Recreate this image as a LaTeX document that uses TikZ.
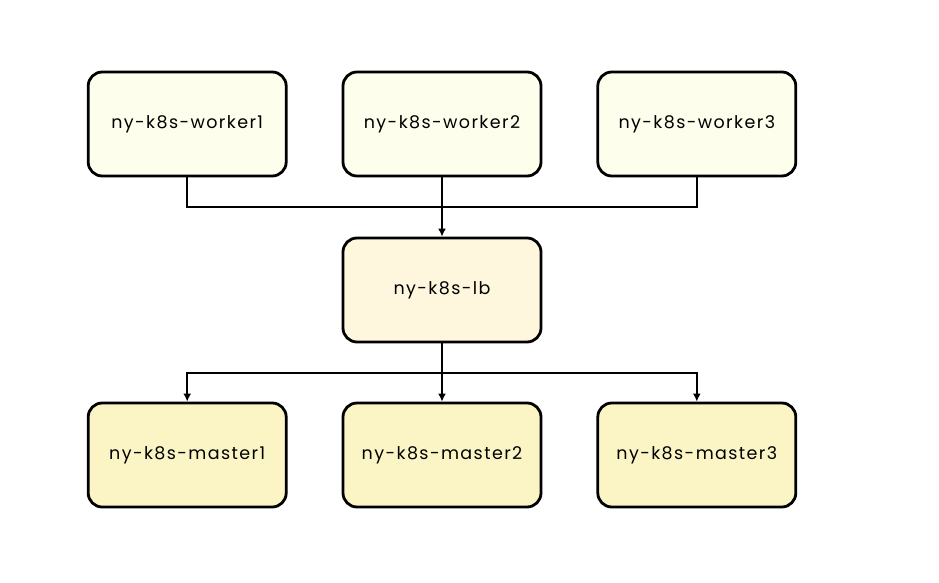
\documentclass[tikz,border=0pt]{standalone}
\usepackage{fontspec}
\setmainfont{Poppins}[LetterSpace=8]
\usetikzlibrary{positioning,calc,arrows.meta}

\definecolor{workerfill}{HTML}{FEFEEC}
\definecolor{lbfill}{HTML}{FEF7DD}
\definecolor{masterfill}{HTML}{FBF5C6}

\tikzset{
  hostbox/.style={draw=black,line width=2.8pt,rounded corners=14pt,
    minimum width=198pt,minimum height=104pt,font=\fontsize{17.5}{20}\selectfont,
    inner sep=0pt},
  link/.style={line width=2.4pt},
  linkarrow/.style={link,-{Latex[length=8pt,width=8pt]}}
}

\begin{document}
\begin{tikzpicture}[x=1pt,y=1pt,node distance=54pt and 54pt]

    \useasboundingbox (0,0) rectangle (939,582);

    \node[hostbox,fill=lbfill] (lb) at (442,292) {ny-k8s-lb};

    % workers
    \node[hostbox,fill=workerfill] (w2) at (442,458) {ny-k8s-worker2};
    \node[hostbox,fill=workerfill,left=of w2] (w1) {ny-k8s-worker1};
    \node[hostbox,fill=workerfill,right=of w2] (w3) {ny-k8s-worker3};

    % masters
    \node[hostbox,fill=masterfill] (m2) at (442,127) {ny-k8s-master2};
    \node[hostbox,fill=masterfill,left=of m2] (m1) {ny-k8s-master1};
    \node[hostbox,fill=masterfill,right=of m2] (m3) {ny-k8s-master3};

    \coordinate (top) at (442,375);
    \coordinate (bot) at (442,209);

    \draw[link] (w1.south) |- (top);
    \draw[link] (w3.south) |- (top);
    \draw[linkarrow] (w2.south) -- (lb.north);

    \draw[linkarrow] (lb.south) -- (m2.north);
    \draw[linkarrow] (bot) -| (m1.north);
    \draw[linkarrow] (bot) -| (m3.north);

\end{tikzpicture}
\end{document}
